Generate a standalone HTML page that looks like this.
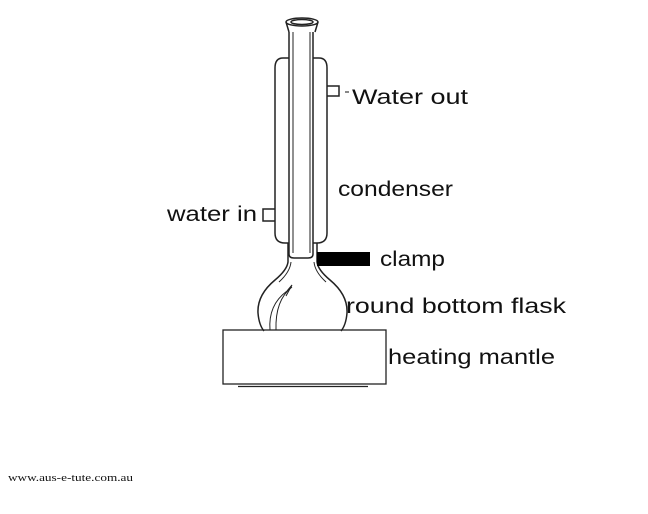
<!DOCTYPE html>
<html><head><meta charset="utf-8"><style>
html,body{margin:0;padding:0;background:#fff;width:648px;height:514px;overflow:hidden}
svg{display:block}
text{font-family:"Liberation Sans",sans-serif;font-size:21px;fill:#111}
</style></head><body>
<svg width="648" height="514" viewBox="0 0 648 514">
<g fill="none" stroke="#222" stroke-width="1.5">
 <!-- top cap -->
 <ellipse cx="302" cy="22" rx="16" ry="4"/>
 <ellipse cx="302" cy="22" rx="11" ry="2.5"/>
 <path d="M286 22 L289 32 M318 22 L315 32"/>
 <!-- jacket -->
 <path d="M289 58 L283 58 Q275 58 275 68 L275 233 Q275 243 285 243 L289 243"/>
 <path d="M313 58 L319 58 Q327 58 327 68 L327 233 Q327 243 317 243 L313 243"/>
 <!-- ports -->
 <path d="M327 86 L339 86 L339 96 L327 96"/>
 <path d="M275 209 L263 209 L263 221 L275 221"/>
 <rect x="345" y="91" width="4" height="2" fill="#888" stroke="none"/>
 <!-- inner tube -->
 <path d="M289 32 L289 254 Q289 258 294 258 L308 258 Q313 258 313 254 L313 32"/>
 <path d="M293 32 L293 253 M310 32 L310 253" stroke-width="1"/>
 <!-- flask neck and bulb -->
 <path d="M288 243 L288 262 Q287 270 275 280 Q257 295 258 313 Q259 325 264 331"/>
 <path d="M317 243 L317 262 Q318 270 330 280 Q348 295 347 313 Q346 325 341 331"/>
 <path d="M291 262 Q290 272 279 282" stroke-width="1"/>
 <path d="M314 262 Q315 272 326 282" stroke-width="1"/>
 <path d="M292 287 Q275 300 276 330 M287 291 Q268 305 270 330" stroke-width="1"/>
 <path d="M287 291 L292 285 L286 296" stroke-width="1"/>
 <!-- mantle -->
 <rect x="223" y="330" width="163" height="54" stroke-width="1.3"/>
 <path d="M238 386.5 L368 386.5" stroke-width="1.3"/>
</g>
<rect x="317" y="252" width="53" height="14" fill="#000"/>
<text x="352" y="104" textLength="116" lengthAdjust="spacingAndGlyphs">Water out</text>
<text x="338" y="196" textLength="115" lengthAdjust="spacingAndGlyphs">condenser</text>
<text x="167" y="221" textLength="90" lengthAdjust="spacingAndGlyphs">water in</text>
<text x="380" y="266" textLength="65" lengthAdjust="spacingAndGlyphs">clamp</text>
<text x="346" y="313" textLength="220" lengthAdjust="spacingAndGlyphs">round bottom flask</text>
<text x="388" y="364" textLength="167" lengthAdjust="spacingAndGlyphs">heating mantle</text>
<text x="8" y="481" style="font-family:'Liberation Serif',serif;font-size:11px" textLength="125" lengthAdjust="spacingAndGlyphs">www.aus-e-tute.com.au</text>
</svg>
</body></html>
